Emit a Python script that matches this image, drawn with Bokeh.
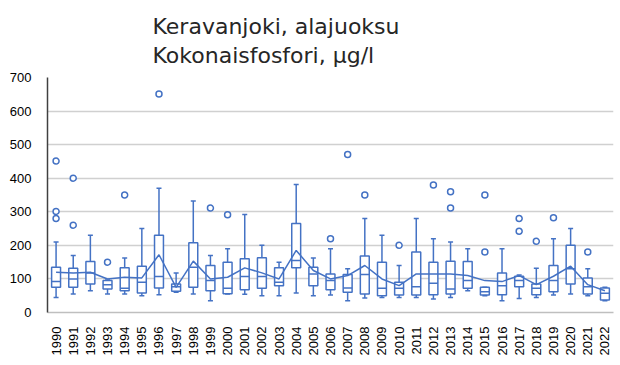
import numpy as np
from bokeh.plotting import figure
from bokeh.models import ColumnDataSource, Range1d, FixedTicker, Title
from bokeh.embed import file_html
from bokeh.resources import INLINE

years = ["1990", "1991", "1992", "1993", "1994", "1995", "1996", "1997", "1998", "1999",
         "2000", "2001", "2002", "2003", "2004", "2005", "2006", "2007", "2008", "2009",
         "2010", "2011", "2012", "2013", "2014", "2015", "2016", "2017", "2018", "2019",
         "2020", "2021", "2022"]
whisker_low = [45, 55, 65, 55, 55, 50, 53, 60, 55, 35, 55, 54, 50, 50, 58, 50, 52, 35, 43, 45,
               45, 45, 40, 45, 65, 50, 35, 42, 45, 52, 55, 50, 35]
q1 = [75, 75, 85, 70, 65, 58, 73, 63, 75, 65, 56, 68, 72, 80, 133, 80, 68, 60, 55, 50,
      52, 52, 53, 55, 72, 52, 53, 77, 53, 62, 85, 55, 37]
median = [92, 100, 118, 83, 72, 90, 107, 77, 135, 95, 72, 107, 107, 90, 155, 115, 95, 73, 113, 72,
          72, 77, 87, 70, 95, 62, 80, 95, 72, 95, 130, 77, 57]
q3 = [135, 132, 152, 95, 133, 138, 230, 85, 208, 140, 150, 160, 163, 133, 265, 135, 115, 113, 168, 150,
      90, 180, 150, 153, 152, 75, 118, 108, 85, 140, 200, 103, 73]
whisker_high = [210, 170, 230, 97, 162, 250, 370, 118, 332, 170, 190, 292, 200, 150, 381, 162, 190, 130, 280, 230,
                140, 280, 220, 210, 190, 75, 190, 112, 132, 220, 250, 130, 75]
mean = [120, 118, 120, 100, 105, 103, 172, 75, 153, 100, 105, 133, 118, 100, 185, 125, 100, 110, 140, 100,
        80, 115, 115, 115, 110, 95, 92, 110, 83, 108, 138, 83, 65]
outlier_years = ["1990", "1990", "1990", "1991", "1991", "1993", "1994", "1996", "1999", "2000",
                 "2006", "2007", "2008", "2010", "2012", "2013", "2013", "2015", "2015", "2017",
                 "2017", "2018", "2019", "2021"]
outlier_values = [451, 301, 280, 400, 260, 150, 350, 651, 311, 291,
                  220, 471, 350, 200, 380, 360, 311, 350, 180, 280,
                  242, 212, 282, 180]
y_ticks = [0, 100, 200, 300, 400, 500, 600, 700]
title_lines = ["Keravanjoki, alajuoksu", "Kokonaisfosfori, µg/l"]

BLUE = "#4472C4"
idx = np.arange(len(years))
src = ColumnDataSource(dict(x=idx, wl=whisker_low, q1=q1, med=median, q3=q3, wh=whisker_high,
                            mean=mean, mx0=idx - 0.26, mx1=idx + 0.26))
osrc = ColumnDataSource(dict(x=[years.index(y) for y in outlier_years], y=outlier_values))

p = figure(frame_width=566, frame_height=235, output_backend="svg", toolbar_location=None,
           x_range=Range1d(-0.5, len(years) - 0.5), y_range=Range1d(0, 700),
           min_border_left=47, min_border_right=6, min_border_top=77, min_border_bottom=52)
p.outline_line_color = None
p.background_fill_color = "white"

p.add_layout(Title(text="\n".join(title_lines), align="left", text_font="DejaVu Sans",
                   text_font_size="22px", text_font_style="normal", text_color="#262626",
                   text_line_height=1.15, offset=105, standoff=20), "above")
p.title.visible = False

p.xaxis.ticker = FixedTicker(ticks=list(idx))
p.xaxis.major_label_overrides = {int(i): y for i, y in zip(idx, years)}
p.xaxis.major_label_orientation = np.pi / 2
p.xaxis.major_tick_line_color = None
p.xaxis.minor_tick_line_color = None
p.xaxis.axis_line_color = "#bfbfbf"
p.xaxis.axis_line_width = 1.5
p.xaxis.major_label_text_font = "Liberation Sans"
p.xaxis.major_label_text_font_size = "13px"
p.xaxis.major_label_text_color = "#000000"
p.xaxis.major_label_standoff = 8

p.yaxis.ticker = FixedTicker(ticks=y_ticks)
p.yaxis.major_tick_line_color = None
p.yaxis.minor_tick_line_color = None
p.yaxis.axis_line_color = "#404040"
p.yaxis.axis_line_width = 1.5
p.yaxis.major_label_text_font = "Liberation Sans"
p.yaxis.major_label_text_font_size = "13px"
p.yaxis.major_label_text_color = "#000000"
p.yaxis.major_label_standoff = 10

p.xgrid.grid_line_color = None
p.ygrid.grid_line_color = "#d0d0d0"
p.ygrid.grid_line_width = 1.5

p.segment(x0="x", y0="wl", x1="x", y1="wh", source=src, line_color=BLUE, line_width=1.5)
p.scatter(x="x", y="wl", source=src, marker="dash", size=5, line_color=BLUE, line_width=1.5)
p.scatter(x="x", y="wh", source=src, marker="dash", size=5, line_color=BLUE, line_width=1.5)
p.vbar(x="x", width=0.52, bottom="q1", top="q3", source=src, fill_color="white",
       line_color=BLUE, line_width=1.5)
p.segment(x0="mx0", y0="med", x1="mx1", y1="med", source=src, line_color=BLUE, line_width=1.5)
p.line(x="x", y="mean", source=src, line_color=BLUE, line_width=1.5)
p.scatter(x="x", y="y", source=osrc, marker="circle", size=6, fill_color="white",
          line_color=BLUE, line_width=1.5)

open("out.html", "w").write(file_html(p, INLINE))
